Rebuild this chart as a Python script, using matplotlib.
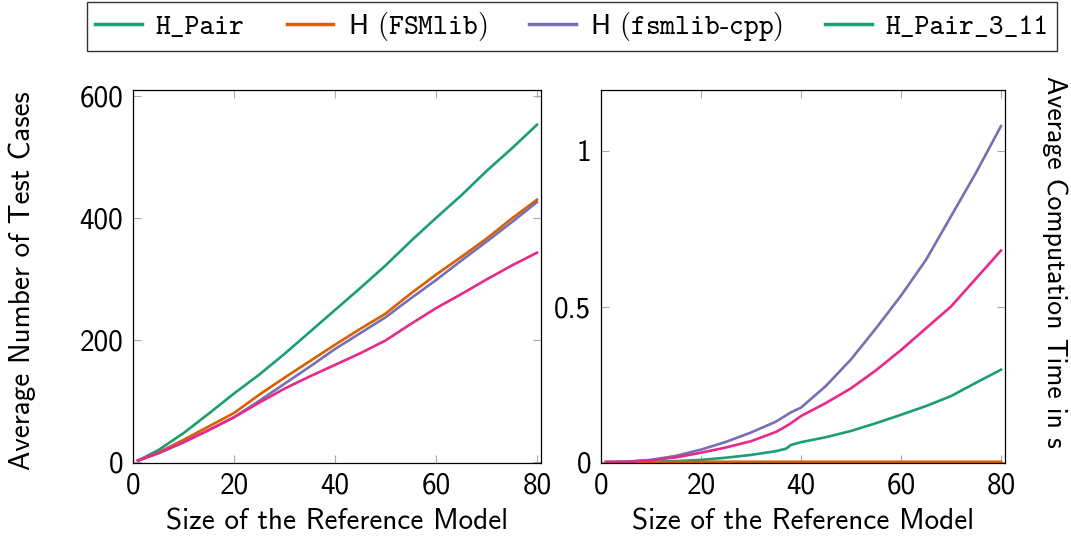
import numpy as np
import matplotlib.pyplot as plt
from matplotlib.lines import Line2D

# sizes of the reference model
x_cases = [1, 5, 10, 15, 20, 25, 30, 35, 40, 45, 50, 55, 60, 65, 70, 75, 80]
# average number of test cases
cases_hpair = [2, 19, 47, 79, 112, 143, 177, 213, 249, 285, 322, 362, 400, 437, 477, 514, 553]
cases_fsmlib = [2, 15, 36, 58, 80, 110, 138, 165, 192, 218, 243, 276, 307, 336, 366, 399, 430]
cases_cpp = [2, 14, 32, 52, 73, 100, 128, 156, 185, 211, 237, 268, 298, 330, 361, 393, 426]
cases_hpair311 = [2, 14, 32, 52, 73, 97, 120, 140, 159, 178, 199, 226, 252, 275, 299, 322, 343]

x_time = [1, 5, 10, 15, 20, 25, 30, 35, 37, 38, 40, 45, 50, 55, 60, 65, 70, 75, 80]
# average computation time in s
time_hpair = [0, 0, 0.001, 0.003, 0.007, 0.014, 0.023, 0.035, 0.043, 0.055, 0.064, 0.08, 0.1,
              0.125, 0.152, 0.18, 0.212, 0.255, 0.297]
time_fsmlib = [0, 0, 0, 0, 0.001, 0.001, 0.001, 0.001, 0.001, 0.001, 0.001, 0.001, 0.001,
               0.001, 0.001, 0.001, 0.001, 0.001, 0.001]
time_cpp = [0, 0.001, 0.007, 0.02, 0.04, 0.065, 0.095, 0.13, 0.15, 0.16, 0.175, 0.245, 0.33,
            0.43, 0.535, 0.65, 0.79, 0.93, 1.08]
time_hpair311 = [0, 0.001, 0.006, 0.015, 0.03, 0.047, 0.067, 0.097, 0.115, 0.125, 0.148, 0.19,
                 0.237, 0.295, 0.36, 0.43, 0.5, 0.59, 0.68]

verde = '#1b9e77'
naranja = '#d95f02'
violeta = '#7570b3'
rosa = '#e7298a'

plt.rcParams['font.family'] = ['cmss10', 'DejaVu Sans']
plt.rcParams['mathtext.fontset'] = 'cm'
plt.rcParams['axes.unicode_minus'] = False

fig = plt.figure(figsize=(10.71, 5.37), dpi=100)
W, H = 1071, 537
ax1 = fig.add_axes([133 / W, (H - 463) / H, (541 - 133) / W, (463 - 90) / H])
ax2 = fig.add_axes([601 / W, (H - 463) / H, (1005 - 601) / W, (463 - 90) / H])

lw = 1.9
ax1.plot(x_cases, cases_hpair, color=verde, lw=lw)
ax1.plot(x_cases, cases_fsmlib, color=naranja, lw=lw)
ax1.plot(x_cases, cases_cpp, color=violeta, lw=lw)
ax1.plot(x_cases, cases_hpair311, color=rosa, lw=lw)

ax2.plot(x_time, time_hpair, color=verde, lw=lw)
ax2.plot(x_time, time_fsmlib, color=naranja, lw=lw)
ax2.plot(x_time, time_cpp, color=violeta, lw=lw)
ax2.plot(x_time, time_hpair311, color=rosa, lw=lw)

ax1.set_xlim(0, 80.8)
ax1.set_ylim(-2, 610)
ax1.set_xticks([0, 20, 40, 60, 80])
ax1.set_yticks([0, 200, 400, 600])
ax2.set_xlim(0, 80.8)
ax2.set_ylim(-0.003, 1.196)
ax2.set_xticks([0, 20, 40, 60, 80])
ax2.set_yticks([0, 0.5, 1])
ax2.set_yticklabels(['0', '0.5', '1'])

for ax in (ax1, ax2):
    ax.tick_params(direction='in', length=6, width=0.8, color='#aaaaaa',
                   top=True, right=True, labelsize=21, pad=7)
    for s in ax.spines.values():
        s.set_linewidth(0.9)
    ax.set_xlabel('Size of the Reference Model', fontsize=21, va='center')
    ax.xaxis.set_label_coords(0.5, (463 - 522) / 373)

ax1.set_ylabel('Average Number of Test Cases', fontsize=21, va='center', ha='center')
ax1.yaxis.set_label_coords((22 - 133) / 408, 0.49)
ax2.yaxis.set_label_position('right')
ax2.set_ylabel('Average Computation Time in s', fontsize=20, rotation=270,
               va='center', ha='center')
ax2.yaxis.set_label_coords((1055 - 601) / 404, 0.54)

handles = [Line2D([], [], color=verde, lw=2.5),
           Line2D([], [], color=naranja, lw=2.5),
           Line2D([], [], color=violeta, lw=2.5),
           Line2D([], [], color=verde, lw=2.5)]
labels = ['H_Pair', r'H $\mathtt{(FSMlib)}$', r'H $\mathtt{(fsmlib}$-$\mathtt{cpp)}$', 'H_Pair_3_11']
leg = fig.legend(handles, labels, loc='center', bbox_to_anchor=(572 / W, 1 - 26.5 / H),
                 ncol=4, fontsize=20.3, frameon=True, fancybox=False, edgecolor='black',
                 handlelength=1.65, handletextpad=0.5, columnspacing=1.5, borderpad=0.3)
leg.get_frame().set_linewidth(1.0)
leg.get_texts()[0].set_fontfamily(['cmtt10', 'DejaVu Sans Mono'])
leg.get_texts()[3].set_fontfamily(['cmtt10', 'DejaVu Sans Mono'])

plt.savefig('out.png', dpi=100)
